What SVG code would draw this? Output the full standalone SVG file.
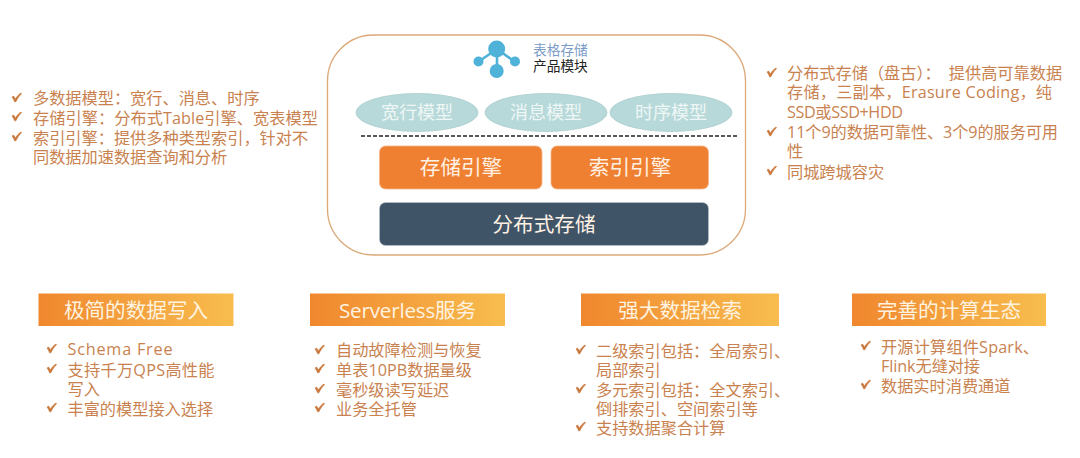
<svg xmlns="http://www.w3.org/2000/svg" width="1080" height="458" viewBox="0 0 1080 458">
<style>
text{font-family:"Open Sans","Noto Sans CJK SC",sans-serif}
.li{font-size:16.2px;fill:#c9824f}
.ck{fill:#c9773a;stroke:#c9773a;stroke-width:.6}
.ban{font-size:20.6px;fill:#fff3e0;text-anchor:middle}
.ell{fill:#b8d9d9;stroke:#a4c8c9;stroke-width:.7}
.elt{font-size:18px;fill:#eef7f6;text-anchor:middle}
.bt{font-size:20.6px;fill:#fff1e4;text-anchor:middle}
.or{fill:#f08031;stroke:#f2b48a;stroke-width:.8}
.icn{fill:#4fb2d8}
.icl{stroke:#4fb2d8;stroke-width:2.6;fill:none}
</style>
<defs>
<linearGradient id="g" x1="0" y1="0" x2="1" y2="0"><stop offset="0" stop-color="#f0872e"/><stop offset="1" stop-color="#f8bd4e"/></linearGradient>
<path id="c" d="M0,-1 L1.6,-1.9 L3.5,0.9 C5,-1.8 7,-3.8 9,-5 L9.6,-4.3 C7.4,-2.4 5.4,0.4 3.9,3.8 L2.6,3.8 C2,1.8 1,0.4 0,-1 Z"/>
</defs>
<rect width="1080" height="458" fill="#fff"/>

<g id="panel-left">
<use href="#c" class="ck" x="12" y="98"/><text class="li" x="33" y="104">多数据模型：宽行、消息、时序</text>
<use href="#c" class="ck" x="12" y="117"/><text class="li" x="33" y="124" textLength="285">存储引擎：分布式Table引擎、宽表模型</text>
<use href="#c" class="ck" x="12" y="137"/><text class="li" x="33" y="144">索引引擎：提供多种类型索引，针对不</text>
<text class="li" x="33" y="163">同数据加速数据查询和分析</text>
</g>

<g id="product-module">
<rect x="327.5" y="35" width="418" height="220" rx="46" fill="#fff" stroke="#dca878" stroke-width="1.3"/>
<g id="icon">
<path class="icl" d="M497,49 L478,62 M497,49 L515,62 M497,49 L497,72"/>
<circle class="icn" cx="496.7" cy="49" r="8.5"/>
<circle class="icn" cx="478.5" cy="61.5" r="5"/>
<circle class="icn" cx="515" cy="61.5" r="5"/>
<circle class="icn" cx="496.7" cy="71" r="7"/>
</g>
<text x="533" y="55" font-size="13.7" fill="#7a9bc7">表格存储</text>
<text x="533" y="71" font-size="13.7" fill="#222">产品模块</text>
</g>

<g id="model-wide"><ellipse class="ell" cx="417" cy="112.5" rx="61" ry="19"/><text class="elt" x="417" y="119">宽行模型</text></g>
<g id="model-message"><ellipse class="ell" cx="546" cy="112.5" rx="61" ry="19"/><text class="elt" x="546" y="119">消息模型</text></g>
<g id="model-time"><ellipse class="ell" cx="671" cy="112.5" rx="61" ry="19"/><text class="elt" x="671" y="119">时序模型</text></g>

<line id="separator" x1="361" y1="136" x2="737" y2="136" stroke="#222" stroke-width="1.3" stroke-dasharray="4 2"/>

<g id="engine-storage"><rect class="or" x="379.5" y="146" width="162.5" height="43" rx="6"/><text class="bt" x="461" y="175">存储引擎</text></g>
<g id="engine-index"><rect class="or" x="551" y="146" width="157.5" height="43" rx="6"/><text class="bt" x="630" y="175">索引引擎</text></g>
<g id="storage-dist"><rect x="379.5" y="202.5" width="329" height="43" rx="6" fill="#3f5467" stroke="#b9c4cc" stroke-width=".6"/><text class="bt" x="544" y="232">分布式存储</text></g>

<g id="panel-right">
<use href="#c" class="ck" x="767" y="73"/><text class="li" x="787" y="79">分布式存储（盘古）：<tspan dx="8">提供高可靠数据</tspan></text>
<text class="li" x="787" y="98" textLength="265">存储，三副本，Erasure Coding，纯</text>
<text class="li" x="787" y="118" textLength="116">SSD或SSD+HDD</text>
<use href="#c" class="ck" x="767" y="132"/><text class="li" x="787" y="138" textLength="271">11个9的数据可靠性、3个9的服务可用</text>
<text class="li" x="787" y="157">性</text>
<use href="#c" class="ck" x="767" y="171"/><text class="li" x="787" y="178">同城跨城容灾</text>
</g>

<g id="card-write">
<rect x="38.5" y="293.5" width="195" height="32.5" fill="url(#g)"/>
<text class="ban" x="136" y="317.5">极简的数据写入</text>
<use href="#c" class="ck" x="47" y="349"/><text class="li" x="67.5" y="355" textLength="105">Schema Free</text>
<use href="#c" class="ck" x="47" y="369"/><text class="li" x="67.5" y="376" textLength="147">支持千万QPS高性能</text>
<text class="li" x="67.5" y="395">写入</text>
<use href="#c" class="ck" x="47" y="408"/><text class="li" x="67.5" y="415">丰富的模型接入选择</text>
</g>

<g id="card-serverless">
<rect x="310" y="293.5" width="195" height="32.5" fill="url(#g)"/>
<text class="ban" x="407.5" y="317.5" textLength="137">Serverless服务</text>
<use href="#c" class="ck" x="315" y="350"/><text class="li" x="336" y="356">自动故障检测与恢复</text>
<use href="#c" class="ck" x="315" y="369"/><text class="li" x="336" y="376" textLength="136">单表10PB数据量级</text>
<use href="#c" class="ck" x="315" y="389"/><text class="li" x="336" y="396">毫秒级读写延迟</text>
<use href="#c" class="ck" x="315" y="408"/><text class="li" x="336" y="415">业务全托管</text>
</g>

<g id="card-search">
<rect x="581" y="293.5" width="198" height="32.5" fill="url(#g)"/>
<text class="ban" x="680" y="317.5">强大数据检索</text>
<use href="#c" class="ck" x="576" y="350"/><text class="li" x="596" y="357">二级索引包括：全局索引、</text>
<text class="li" x="596" y="376">局部索引</text>
<use href="#c" class="ck" x="576" y="389"/><text class="li" x="596" y="396">多元索引包括：全文索引、</text>
<text class="li" x="596" y="415">倒排索引、空间索引等</text>
<use href="#c" class="ck" x="576" y="427"/><text class="li" x="596" y="434">支持数据聚合计算</text>
</g>

<g id="card-compute">
<rect x="852" y="293.5" width="194" height="32.5" fill="url(#g)"/>
<text class="ban" x="949" y="317.5">完善的计算生态</text>
<use href="#c" class="ck" x="861" y="346"/><text class="li" x="881" y="353" textLength="158">开源计算组件Spark、</text>
<text class="li" x="881" y="372" textLength="99">Flink无缝对接</text>
<use href="#c" class="ck" x="861" y="385"/><text class="li" x="881" y="392">数据实时消费通道</text>
</g>
</svg>
